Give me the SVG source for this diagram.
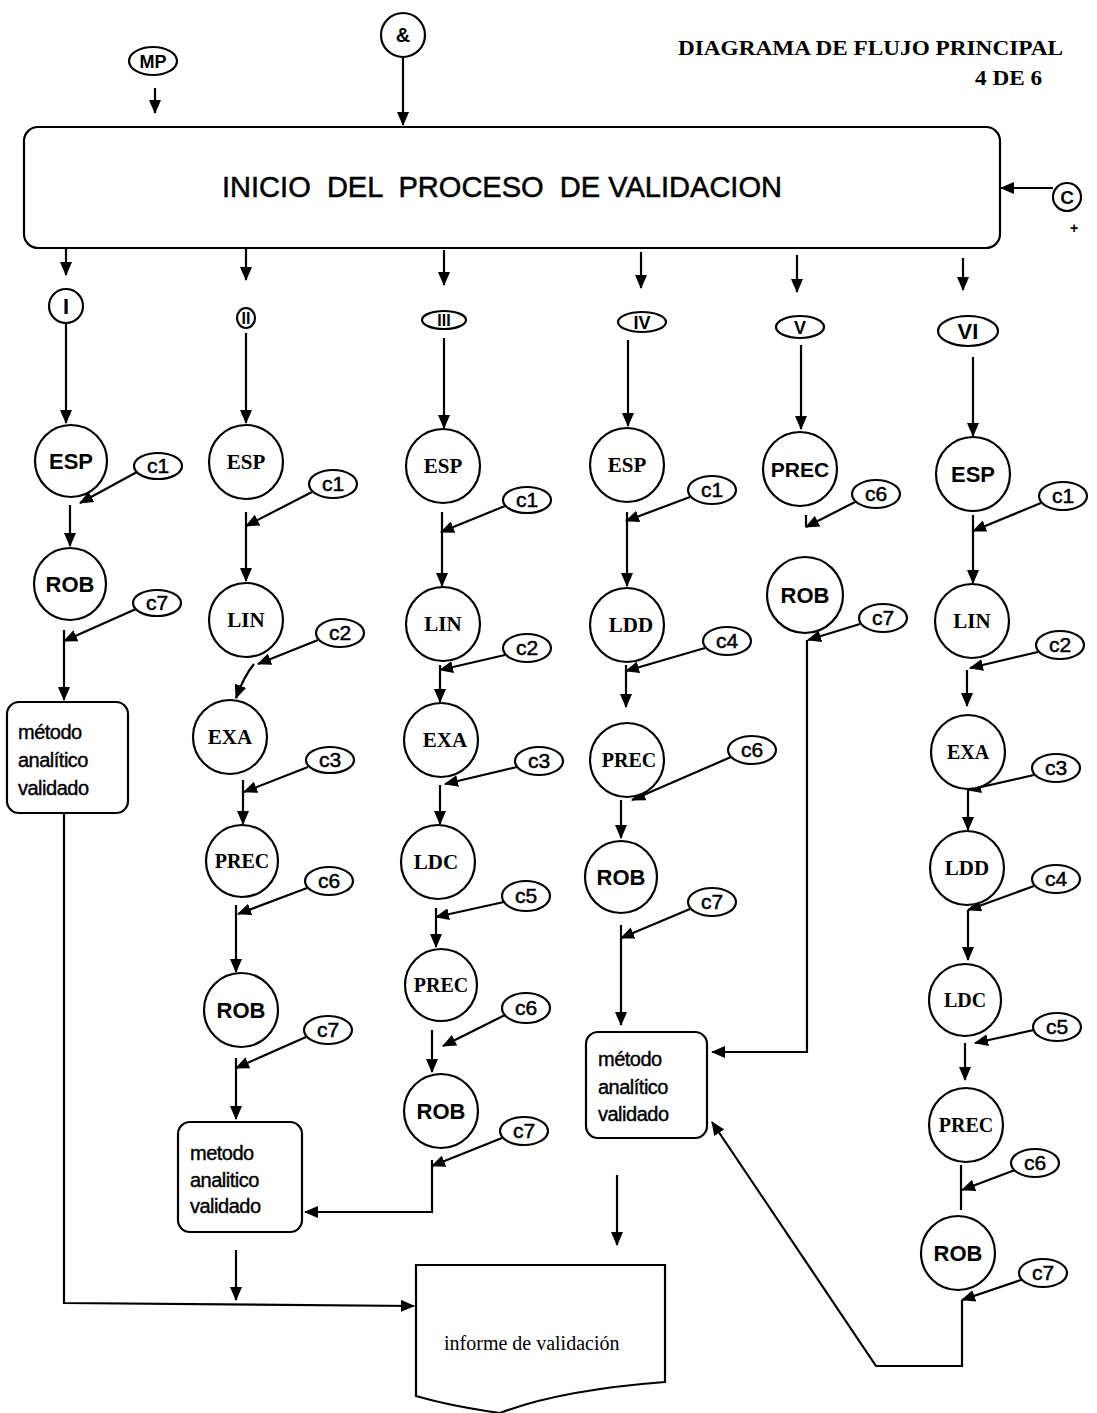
<svg xmlns="http://www.w3.org/2000/svg" width="1097" height="1413" viewBox="0 0 1097 1413">
<style>
.n{fill:#fff;stroke:#000;stroke-width:2.2}
.s{font-family:"Liberation Sans",Arial,sans-serif;font-weight:bold;text-anchor:middle;fill:#000}
.r{font-family:"Liberation Serif","Times New Roman",serif;font-weight:bold;text-anchor:middle;fill:#000}
.c{font-family:"Liberation Sans",Arial,sans-serif;font-size:21px;text-anchor:middle;fill:#000;stroke:#000;stroke-width:0.5}
.t{font-family:"Liberation Sans",Arial,sans-serif;font-size:20px;fill:#000;stroke:#000;stroke-width:0.4;letter-spacing:-0.5px}
.k{fill:none;stroke:#000;stroke-width:2.2}
</style>
<defs>
<marker id="ah" markerWidth="14" markerHeight="12" refX="13" refY="6" orient="auto" markerUnits="userSpaceOnUse"><path d="M0,0 L14,6 L0,12 Z" fill="#000"/></marker>
</defs>
<rect width="1097" height="1413" fill="#fff"/>
<g id="title">
<text x="678" y="55" font-family="Liberation Serif,serif" font-size="22" font-weight="bold" textLength="385" lengthAdjust="spacingAndGlyphs">DIAGRAMA DE FLUJO PRINCIPAL</text>
<text x="975" y="85" font-family="Liberation Serif,serif" font-size="21" font-weight="bold" textLength="67" lengthAdjust="spacingAndGlyphs">4 DE 6</text>
</g>
<g id="connectors" class="k" marker-end="url(#ah)">
<path d="M155,88 V113"/>
<path d="M403,57 V125"/>
<path d="M1053,188 H1001"/>
<!-- col I -->
<path d="M66,241 V275"/>
<path d="M66,324 V423"/>
<path d="M137,472 L80,503"/>
<path d="M70,505 V546"/>
<path d="M136,609 L64,641"/>
<path d="M64,630 V700"/>
<path d="M64,813 V1303 L414,1306"/>
<!-- col II -->
<path d="M246,244 V280"/>
<path d="M246,333 V423"/>
<path d="M312,492 L246,526"/>
<path d="M246,512 V581"/>
<path d="M318,640 L258,664"/>
<path d="M254,664 Q244,676 236,698"/>
<path d="M308,767 L244,792"/>
<path d="M243,780 V824"/>
<path d="M307,888 L238,914"/>
<path d="M236,905 V972"/>
<path d="M306,1037 L236,1068"/>
<path d="M236,1058 V1119"/>
<path d="M236,1250 V1300"/>
<!-- col III -->
<path d="M444,250 V285"/>
<path d="M444,338 V428"/>
<path d="M505,506 L441,532"/>
<path d="M442,512 V586"/>
<path d="M505,655 L440,670"/>
<path d="M440,665 V702"/>
<path d="M517,767 L445,784"/>
<path d="M440,785 V824"/>
<path d="M504,902 L436,917"/>
<path d="M436,908 V947"/>
<path d="M505,1015 L443,1046"/>
<path d="M432,1030 V1072"/>
<path d="M502,1138 L432,1166"/>
<path d="M432,1160 V1212 H305"/>
<!-- col IV -->
<path d="M641,252 V288"/>
<path d="M628,340 V426"/>
<path d="M690,497 L626,521"/>
<path d="M627,512 V586"/>
<path d="M705,648 L626,671"/>
<path d="M626,665 V707"/>
<path d="M731,757 L632,800"/>
<path d="M621,800 V838"/>
<path d="M690,909 L621,938"/>
<path d="M621,925 V1025"/>
<path d="M617,1175 V1245"/>
<!-- col V -->
<path d="M797,255 V292"/>
<path d="M801,345 V429"/>
<path d="M857,501 L806,527"/>
<path d="M806,515 V527" marker-end="none"/>
<path d="M860,624 L808,640"/>
<path d="M807,640 V1052 H712"/>
<!-- col VI -->
<path d="M963,258 V290"/>
<path d="M973,357 V436"/>
<path d="M1041,503 L973,531"/>
<path d="M973,515 V583"/>
<path d="M1038,652 L970,668"/>
<path d="M967,670 V706"/>
<path d="M1034,775 L968,790"/>
<path d="M968,790 V830"/>
<path d="M1034,886 L968,910"/>
<path d="M968,910 V960"/>
<path d="M1034,1030 L975,1043"/>
<path d="M965,1043 V1080"/>
<path d="M1015,1170 L962,1190"/>
<path d="M961,1165 V1210" marker-end="none"/>
<path d="M1021,1280 L962,1300"/>
<path d="M962,1300 V1366 H876 L712,1122"/>
</g>
<g id="inicio"><rect class="n" x="24" y="127" width="976" height="121" rx="14"/><text x="222" y="197" xml:space="preserve" font-family="Liberation Sans,Arial,sans-serif" font-size="29" stroke="#000" stroke-width="0.5" textLength="560" lengthAdjust="spacingAndGlyphs">INICIO  DEL  PROCESO  DE VALIDACION</text></g>
<g id="MP"><ellipse class="n" cx="153" cy="61" rx="24" ry="14"/><text class="s" x="153" y="68" font-size="18">MP</text></g>
<g id="amp"><circle class="n" cx="403" cy="35" r="22"/><text class="s" x="403" y="42" font-size="20">&amp;</text></g>
<g id="C"><circle class="n" cx="1067" cy="197" r="14"/><text class="s" x="1067" y="204" font-size="19">C</text><text class="s" x="1074" y="233" font-size="14">+</text></g>
<g id="rI"><circle class="n" cx="66" cy="306" r="17"/><text class="s" x="66" y="314" font-size="22">I</text></g>
<g id="rII"><ellipse class="n" cx="246" cy="318" rx="9" ry="10"/><text class="s" x="246" y="324" font-size="16">II</text></g>
<g id="rIII"><ellipse class="n" cx="444" cy="320" rx="22" ry="9"/><text class="s" x="444" y="326" font-size="16">III</text></g>
<g id="rIV"><ellipse class="n" cx="642" cy="322" rx="24" ry="10"/><text class="s" x="642" y="329" font-size="18">IV</text></g>
<g id="rV"><ellipse class="n" cx="800" cy="327" rx="24" ry="11"/><text class="s" x="800" y="334" font-size="18">V</text></g>
<g id="rVI"><ellipse class="n" cx="968" cy="331" rx="30" ry="15"/><text class="s" x="968" y="339" font-size="22">VI</text></g>
<!-- column I -->
<g id="I_ESP"><circle class="n" cx="71" cy="461" r="36"/><text class="s" x="71" y="469" font-size="22">ESP</text></g>
<g id="I_c1"><ellipse class="n" cx="158" cy="466" rx="24" ry="13"/><text class="c" x="158" y="473">c1</text></g>
<g id="I_ROB"><circle class="n" cx="70" cy="584" r="36"/><text class="s" x="70" y="592" font-size="22">ROB</text></g>
<g id="I_c7"><ellipse class="n" cx="157" cy="603" rx="24" ry="13"/><text class="c" x="157" y="610">c7</text></g>
<g id="I_met"><rect class="n" x="7" y="702" width="121" height="111" rx="12"/><text class="t" x="18" y="739">método</text><text class="t" x="18" y="767">analítico</text><text class="t" x="18" y="795">validado</text></g>
<!-- column II -->
<g id="II_ESP"><circle class="n" cx="246" cy="462" r="37"/><text class="r" x="246" y="469" font-size="21">ESP</text></g>
<g id="II_c1"><ellipse class="n" cx="333" cy="484" rx="24" ry="14"/><text class="c" x="333" y="491">c1</text></g>
<g id="II_LIN"><circle class="n" cx="246" cy="620" r="37"/><text class="r" x="246" y="627" font-size="21" font-weight="normal">LIN</text></g>
<g id="II_c2"><ellipse class="n" cx="340" cy="633" rx="24" ry="14"/><text class="c" x="340" y="640">c2</text></g>
<g id="II_EXA"><circle class="n" cx="230" cy="737" r="37"/><text class="r" x="230" y="744" font-size="21">EXA</text></g>
<g id="II_c3"><ellipse class="n" cx="330" cy="760" rx="24" ry="13"/><text class="c" x="330" y="767">c3</text></g>
<g id="II_PREC"><circle class="n" cx="242" cy="861" r="36"/><text class="r" x="242" y="868" font-size="20">PREC</text></g>
<g id="II_c6"><ellipse class="n" cx="329" cy="881" rx="24" ry="14"/><text class="c" x="329" y="888">c6</text></g>
<g id="II_ROB"><circle class="n" cx="241" cy="1010" r="37"/><text class="s" x="241" y="1018" font-size="22" font-weight="normal">ROB</text></g>
<g id="II_c7"><ellipse class="n" cx="328" cy="1030" rx="24" ry="14"/><text class="c" x="328" y="1037">c7</text></g>
<g id="II_met"><rect class="n" x="178" y="1122" width="124" height="110" rx="12"/><text class="t" x="190" y="1160">metodo</text><text class="t" x="190" y="1187">analitico</text><text class="t" x="190" y="1213">validado</text></g>
<!-- column III -->
<g id="III_ESP"><circle class="n" cx="443" cy="466" r="37"/><text class="r" x="443" y="473" font-size="21">ESP</text></g>
<g id="III_c1"><ellipse class="n" cx="527" cy="500" rx="24" ry="13"/><text class="c" x="527" y="507">c1</text></g>
<g id="III_LIN"><circle class="n" cx="443" cy="624" r="37"/><text class="r" x="443" y="631" font-size="21" font-weight="normal">LIN</text></g>
<g id="III_c2"><ellipse class="n" cx="527" cy="648" rx="24" ry="14"/><text class="c" x="527" y="655">c2</text></g>
<g id="III_EXA"><circle class="n" cx="441" cy="740" r="37"/><text class="r" x="445" y="747" font-size="21">EXA</text></g>
<g id="III_c3"><ellipse class="n" cx="539" cy="761" rx="24" ry="14"/><text class="c" x="539" y="768">c3</text></g>
<g id="III_LDC"><circle class="n" cx="438" cy="862" r="37"/><text class="r" x="436" y="869" font-size="21">LDC</text></g>
<g id="III_c5"><ellipse class="n" cx="526" cy="896" rx="24" ry="15"/><text class="c" x="526" y="903">c5</text></g>
<g id="III_PREC"><circle class="n" cx="441" cy="985" r="36"/><text class="r" x="441" y="992" font-size="20">PREC</text></g>
<g id="III_c6"><ellipse class="n" cx="526" cy="1008" rx="24" ry="15"/><text class="c" x="526" y="1015">c6</text></g>
<g id="III_ROB"><circle class="n" cx="441" cy="1111" r="37"/><text class="s" x="441" y="1119" font-size="22" font-weight="normal">ROB</text></g>
<g id="III_c7"><ellipse class="n" cx="524" cy="1131" rx="24" ry="14"/><text class="c" x="524" y="1138">c7</text></g>
<!-- column IV -->
<g id="IV_ESP"><circle class="n" cx="627" cy="465" r="37"/><text class="r" x="627" y="472" font-size="21">ESP</text></g>
<g id="IV_c1"><ellipse class="n" cx="712" cy="490" rx="24" ry="14"/><text class="c" x="712" y="497">c1</text></g>
<g id="IV_LDD"><circle class="n" cx="627" cy="625" r="37"/><text class="r" x="631" y="632" font-size="21">LDD</text></g>
<g id="IV_c4"><ellipse class="n" cx="727" cy="641" rx="24" ry="14"/><text class="c" x="727" y="648">c4</text></g>
<g id="IV_PREC"><circle class="n" cx="627" cy="760" r="37"/><text class="r" x="629" y="767" font-size="20">PREC</text></g>
<g id="IV_c6"><ellipse class="n" cx="752" cy="750" rx="24" ry="14"/><text class="c" x="752" y="757">c6</text></g>
<g id="IV_ROB"><circle class="n" cx="621" cy="877" r="36"/><text class="s" x="621" y="885" font-size="22" font-weight="normal">ROB</text></g>
<g id="IV_c7"><ellipse class="n" cx="712" cy="902" rx="24" ry="14"/><text class="c" x="712" y="909">c7</text></g>
<g id="IV_met"><rect class="n" x="586" y="1032" width="121" height="106" rx="12"/><text class="t" x="598" y="1066">método</text><text class="t" x="598" y="1094">analítico</text><text class="t" x="598" y="1121">validado</text></g>
<!-- column V -->
<g id="V_PREC"><circle class="n" cx="800" cy="469" r="37"/><text class="s" x="800" y="477" font-size="21">PREC</text></g>
<g id="V_c6"><ellipse class="n" cx="876" cy="494" rx="24" ry="14"/><text class="c" x="876" y="501">c6</text></g>
<g id="V_ROB"><circle class="n" cx="805" cy="595" r="38"/><text class="s" x="805" y="603" font-size="22" font-weight="normal">ROB</text></g>
<g id="V_c7"><ellipse class="n" cx="883" cy="618" rx="24" ry="14"/><text class="c" x="883" y="625">c7</text></g>
<!-- column VI -->
<g id="VI_ESP"><circle class="n" cx="973" cy="474" r="37"/><text class="s" x="973" y="482" font-size="22">ESP</text></g>
<g id="VI_c1"><ellipse class="n" cx="1063" cy="496" rx="24" ry="14"/><text class="c" x="1063" y="503">c1</text></g>
<g id="VI_LIN"><circle class="n" cx="972" cy="621" r="37"/><text class="r" x="972" y="628" font-size="21" font-weight="normal">LIN</text></g>
<g id="VI_c2"><ellipse class="n" cx="1060" cy="645" rx="24" ry="14"/><text class="c" x="1060" y="652">c2</text></g>
<g id="VI_EXA"><circle class="n" cx="968" cy="752" r="37"/><text class="r" x="968" y="759" font-size="20">EXA</text></g>
<g id="VI_c3"><ellipse class="n" cx="1056" cy="768" rx="24" ry="14"/><text class="c" x="1056" y="775">c3</text></g>
<g id="VI_LDD"><circle class="n" cx="967" cy="868" r="37"/><text class="r" x="967" y="875" font-size="21">LDD</text></g>
<g id="VI_c4"><ellipse class="n" cx="1056" cy="879" rx="24" ry="14"/><text class="c" x="1056" y="886">c4</text></g>
<g id="VI_LDC"><circle class="n" cx="965" cy="1000" r="36"/><text class="r" x="965" y="1007" font-size="20">LDC</text></g>
<g id="VI_c5"><ellipse class="n" cx="1057" cy="1027" rx="24" ry="14"/><text class="c" x="1057" y="1034">c5</text></g>
<g id="VI_PREC"><circle class="n" cx="966" cy="1125" r="37"/><text class="r" x="966" y="1132" font-size="20">PREC</text></g>
<g id="VI_c6"><ellipse class="n" cx="1035" cy="1163" rx="24" ry="14"/><text class="c" x="1035" y="1170">c6</text></g>
<g id="VI_ROB"><circle class="n" cx="958" cy="1253" r="37"/><text class="s" x="958" y="1261" font-size="22" font-weight="normal">ROB</text></g>
<g id="VI_c7"><ellipse class="n" cx="1043" cy="1273" rx="24" ry="14"/><text class="c" x="1043" y="1280">c7</text></g>
<!-- report -->
<g id="informe"><path class="n" d="M416,1265 L665,1265 L665,1382 Q560,1390 500,1413 Q450,1406 416,1396 Z"/><text x="444" y="1350" font-family="Liberation Serif,serif" font-size="20" fill="#000">informe de validación</text></g>
</svg>
